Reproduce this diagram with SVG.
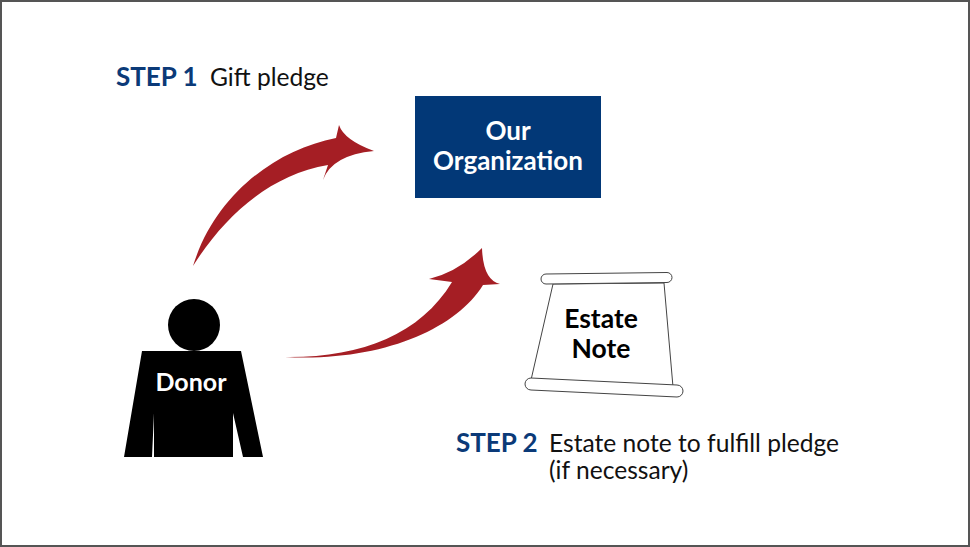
<svg xmlns="http://www.w3.org/2000/svg" width="970" height="547" viewBox="0 0 970 547">
<style>
.step{font-family:Lato,"Open Sans",sans-serif;font-weight:700;font-size:26px;fill:#0b3a78}
.desc{font-family:Lato,"Open Sans",sans-serif;font-size:24.6px;fill:#111}
.lbl{font-family:Lato,"Open Sans",sans-serif;font-weight:700;text-anchor:middle}
.arrow{fill:#a51e24}
.scroll{fill:#fff;stroke:#444;stroke-width:1}
</style>
<rect x="1" y="1" width="968" height="545" fill="#fff" stroke="#555" stroke-width="2"/>
<g id="step1-label">
<text x="116" y="86" class="step">STEP 1</text>
<text x="210" y="86" class="desc">Gift pledge</text>
</g>
<g id="step2-label">
<text x="456" y="452" class="step">STEP 2</text>
<text x="549" y="452" class="desc">Estate note to fulfill pledge</text>
<text x="549" y="479" class="desc">(if necessary)</text>
</g>
<g id="connectors">
<path class="arrow" d="M374,151 Q344,140 339,125 L336,138 C275,150 215,195 193,266 C225,215 270,175 328,165 L323,180 Q332,155 374,151 Z"/>
<path class="arrow" d="M482,248 Q458,272 429,279 L452,282 C420,335 360,358 285,357 C380,362 455,330 483,285 L500,284 Q483,280 482,248 Z"/>
</g>
<g id="organization">
<rect x="415" y="96" width="186" height="102" fill="#023877"/>
<text x="508" y="140" class="lbl" font-size="26" fill="#fff">Our</text>
<text x="508" y="170" class="lbl" font-size="26" fill="#fff">Organization</text>
</g>
<g id="estate-note">
<path class="scroll" d="M553,284 L531,380 L673,387 L664,283 Z"/>
<path class="scroll" d="M546,274 L667,272.5 A5,5 0 0 1 667,282.5 L546,284 A5,5 0 0 1 546,274 Z"/>
<path class="scroll" d="M531,378 L677,385 A6,6 0 0 1 677,397 L531,390 A6,6 0 0 1 531,378 Z"/>
<text x="601" y="327.5" class="lbl" font-size="26.5" fill="#000">Estate</text>
<text x="601" y="357.5" class="lbl" font-size="26.5" fill="#000">Note</text>
</g>
<g id="donor">
<circle cx="194" cy="325" r="26" fill="#000"/>
<path d="M142,351 L241,351 L263,457 L243,457 L233,413 L233,457 L154,457 L154,413 L152,457 L124,457 Z" fill="#000"/>
<text x="191" y="391" class="lbl" font-size="25" fill="#fff">Donor</text>
</g>
</svg>
